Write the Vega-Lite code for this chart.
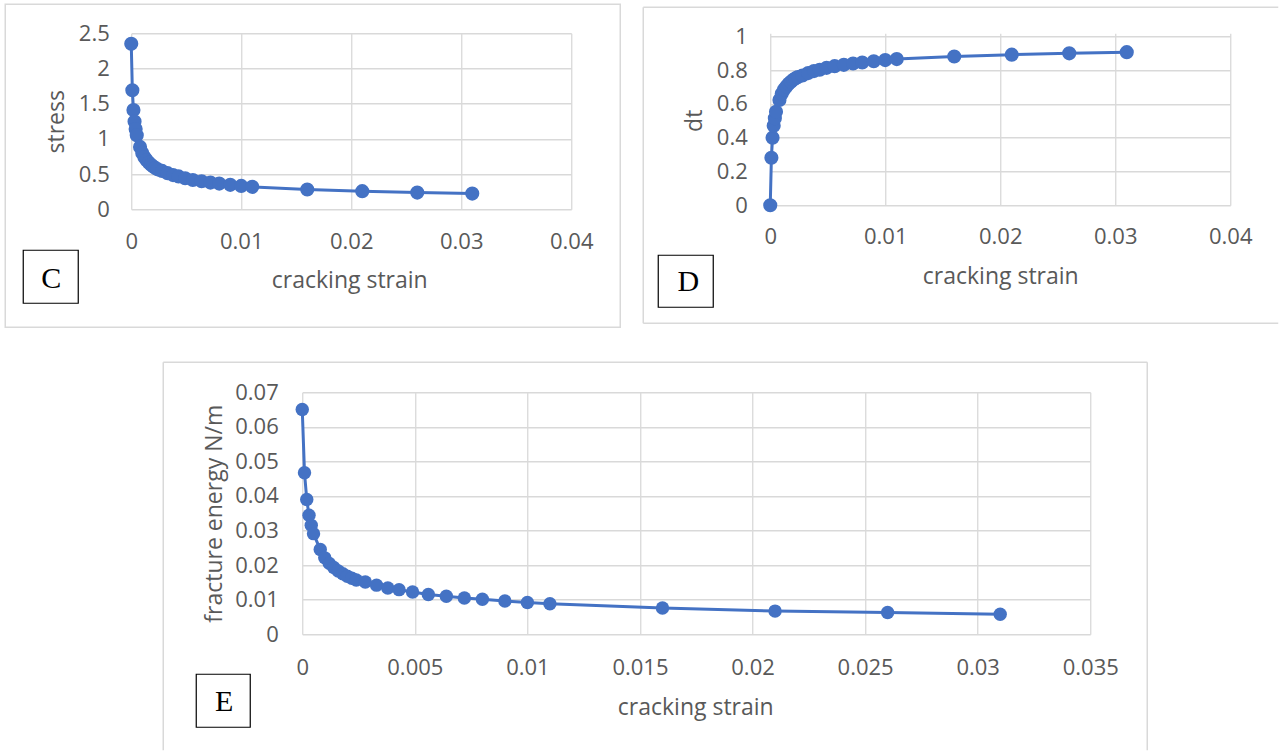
{
  "$schema": "https://vega.github.io/schema/vega-lite/v6.json",
  "padding": {"left": 4.25, "top": 3.25, "right": 0, "bottom": 0},
  "background": "white",
  "bounds": "flush",
  "spacing": 359,
  "config": {
    "view": {"stroke": null},
    "axis": {
      "labelFont": "Open Sans", "labelFontSize": 22, "labelColor": "#595959",
      "titleFont": "Open Sans", "titleFontSize": 23, "titleColor": "#595959", "titleFontWeight": "normal",
      "gridColor": "#d9d9d9", "gridWidth": 1.3, "domain": false, "ticks": false,
      "labelFlush": false, "labelOverlap": false, "format": "~g", "titleBaseline": "middle"
    }
  },
  "datasets": {
    "curve": [
      {"strain": 0, "stress": 2.35, "dt": 0, "energy": 0.065},
      {"strain": 0.0001, "stress": 1.69, "dt": 0.281, "energy": 0.0467},
      {"strain": 0.0002, "stress": 1.41, "dt": 0.4, "energy": 0.039},
      {"strain": 0.0003, "stress": 1.245, "dt": 0.47, "energy": 0.0344},
      {"strain": 0.0004, "stress": 1.14, "dt": 0.515, "energy": 0.0315},
      {"strain": 0.0005, "stress": 1.05, "dt": 0.553, "energy": 0.0291},
      {"strain": 0.0008, "stress": 0.885, "dt": 0.623, "energy": 0.0245},
      {"strain": 0.001, "stress": 0.8, "dt": 0.66, "energy": 0.0221},
      {"strain": 0.0012, "stress": 0.74, "dt": 0.685, "energy": 0.0205},
      {"strain": 0.0014, "stress": 0.697, "dt": 0.703, "energy": 0.0193},
      {"strain": 0.0016, "stress": 0.661, "dt": 0.719, "energy": 0.0183},
      {"strain": 0.0018, "stress": 0.632, "dt": 0.731, "energy": 0.0175},
      {"strain": 0.002, "stress": 0.607, "dt": 0.742, "energy": 0.0168},
      {"strain": 0.0022, "stress": 0.585, "dt": 0.751, "energy": 0.0162},
      {"strain": 0.0024, "stress": 0.567, "dt": 0.759, "energy": 0.0157},
      {"strain": 0.0028, "stress": 0.545, "dt": 0.768, "energy": 0.0151},
      {"strain": 0.0033, "stress": 0.513, "dt": 0.782, "energy": 0.0142},
      {"strain": 0.0038, "stress": 0.485, "dt": 0.794, "energy": 0.0134},
      {"strain": 0.0043, "stress": 0.466, "dt": 0.802, "energy": 0.0129},
      {"strain": 0.0049, "stress": 0.44, "dt": 0.813, "energy": 0.0122},
      {"strain": 0.0056, "stress": 0.416, "dt": 0.823, "energy": 0.0115},
      {"strain": 0.0064, "stress": 0.397, "dt": 0.831, "energy": 0.011},
      {"strain": 0.0072, "stress": 0.379, "dt": 0.839, "energy": 0.0105},
      {"strain": 0.008, "stress": 0.365, "dt": 0.845, "energy": 0.0101},
      {"strain": 0.009, "stress": 0.347, "dt": 0.852, "energy": 0.0096},
      {"strain": 0.01, "stress": 0.332, "dt": 0.859, "energy": 0.0092},
      {"strain": 0.011, "stress": 0.318, "dt": 0.865, "energy": 0.0088},
      {"strain": 0.016, "stress": 0.28, "dt": 0.88, "energy": 0.0076},
      {"strain": 0.021, "stress": 0.257, "dt": 0.891, "energy": 0.0067},
      {"strain": 0.026, "stress": 0.237, "dt": 0.899, "energy": 0.0063},
      {"strain": 0.031, "stress": 0.222, "dt": 0.906, "energy": 0.0058}
    ]
  },
  "vconcat": [
    {
      "hconcat": [
        {
          "width": 440, "height": 176,
          "layer": [
            {
              "data": {"name": "curve"},
              "encoding": {
                "x": {"field": "strain", "type": "quantitative", "scale": {"domain": [0, 0.04], "nice": false},
                      "axis": {"values": [0, 0.01, 0.02, 0.03, 0.04], "labelPadding": 22, "title": "cracking strain", "titleX": 218, "titleY": 71}},
                "y": {"field": "stress", "type": "quantitative", "scale": {"domain": [0, 2.5], "nice": false},
                      "axis": {"values": [0, 0.5, 1, 1.5, 2, 2.5], "labelPadding": 22, "title": "stress", "titleX": -75, "titleY": 88}}
              },
              "layer": [
                {"mark": {"type": "line", "color": "#4472C4", "strokeWidth": 3}},
                {"mark": {"type": "point", "filled": true, "color": "#4472C4", "size": 200, "opacity": 1}}
              ]
            },
            {
              "data": {"values": [{"panel": "C"}]},
              "mark": {"type": "rect", "fill": "white", "fillOpacity": 0, "stroke": "#d9d9d9", "strokeWidth": 1.5},
              "encoding": {
                "x": {"datum": -0.011455, "type": "quantitative", "axis": {"values": [0, 0.01, 0.02, 0.03, 0.04], "labelPadding": 22, "title": "cracking strain", "titleX": 218, "titleY": 71}},
                "x2": {"datum": 0.044455},
                "y": {"datum": 2.9119, "type": "quantitative", "axis": {"values": [0, 0.5, 1, 1.5, 2, 2.5], "labelPadding": 22, "title": "stress", "titleX": -75, "titleY": 88}},
                "y2": {"datum": -1.6761}
              }
            },
            {
              "data": {"values": [{"panel": "C"}]},
              "mark": {"type": "rect", "fill": "white", "stroke": "black", "strokeWidth": 1.2},
              "encoding": {
                "x": {"datum": -0.0098182, "type": "quantitative", "axis": {"values": [0, 0.01, 0.02, 0.03, 0.04], "labelPadding": 22, "title": "cracking strain", "titleX": 218, "titleY": 71}},
                "x2": {"datum": -0.0048182},
                "y": {"datum": -0.58239, "type": "quantitative", "axis": {"values": [0, 0.5, 1, 1.5, 2, 2.5], "labelPadding": 22, "title": "stress", "titleX": -75, "titleY": 88}},
                "y2": {"datum": -1.33523}
              }
            },
            {
              "data": {"values": [{"panel": "C"}]},
              "mark": {"type": "text", "font": "Liberation Serif", "fontSize": 30, "color": "black", "align": "center", "baseline": "middle"},
              "encoding": {
                "x": {"datum": -0.0072727, "type": "quantitative", "axis": {"values": [0, 0.01, 0.02, 0.03, 0.04], "labelPadding": 22, "title": "cracking strain", "titleX": 218, "titleY": 71}},
                "y": {"datum": -0.99432, "type": "quantitative", "axis": {"values": [0, 0.5, 1, 1.5, 2, 2.5], "labelPadding": 22, "title": "stress", "titleX": -75, "titleY": 88}},
                "text": {"field": "panel"}
              }
            }
          ]
        },
        {
          "width": 199, "height": 176,
          "data": {"values": [{"s": 1}]},
          "mark": {"type": "point", "opacity": 0},
          "encoding": {}
        },
        {
          "width": 460, "height": 172,
          "layer": [
            {
              "data": {"name": "curve"},
              "encoding": {
                "x": {"field": "strain", "type": "quantitative", "scale": {"domain": [0, 0.04], "nice": false},
                      "axis": {"values": [0, 0.01, 0.02, 0.03, 0.04], "labelPadding": 21, "title": "cracking strain", "titleX": 230, "titleY": 71}},
                "y": {"field": "dt", "type": "quantitative", "scale": {"domain": [0, 1.0178], "nice": false},
                      "axis": {"values": [0, 0.2, 0.4, 0.6, 0.8, 1], "labelPadding": 23, "title": "dt", "titleX": -76, "titleY": 87}}
              },
              "layer": [
                {"mark": {"type": "line", "color": "#4472C4", "strokeWidth": 3}},
                {"mark": {"type": "point", "filled": true, "color": "#4472C4", "size": 200, "opacity": 1}}
              ]
            },
            {
              "data": {"values": [{"panel": "D"}]},
              "mark": {"type": "rule", "stroke": "#d9d9d9", "strokeWidth": 1.5},
              "encoding": {
                "x": {"datum": -0.011043, "type": "quantitative", "axis": {"values": [0, 0.01, 0.02, 0.03, 0.04], "labelPadding": 21, "title": "cracking strain", "titleX": 230, "titleY": 71}},
                "x2": {"datum": 0.044174},
                "y": {"datum": 1.1716, "type": "quantitative", "axis": {"values": [0, 0.2, 0.4, 0.6, 0.8, 1], "labelPadding": 23, "title": "dt", "titleX": -76, "titleY": 87}}
              }
            },
            {
              "data": {"values": [{"panel": "D"}]},
              "mark": {"type": "rule", "stroke": "#d9d9d9", "strokeWidth": 1.5},
              "encoding": {
                "x": {"datum": -0.011043, "type": "quantitative", "axis": {"values": [0, 0.01, 0.02, 0.03, 0.04], "labelPadding": 21, "title": "cracking strain", "titleX": 230, "titleY": 71}},
                "x2": {"datum": 0.044174},
                "y": {"datum": -0.69822, "type": "quantitative", "axis": {"values": [0, 0.2, 0.4, 0.6, 0.8, 1], "labelPadding": 23, "title": "dt", "titleX": -76, "titleY": 87}}
              }
            },
            {
              "data": {"values": [{"panel": "D"}]},
              "mark": {"type": "rule", "stroke": "#d9d9d9", "strokeWidth": 1.5},
              "encoding": {
                "x": {"datum": -0.011043, "type": "quantitative", "axis": {"values": [0, 0.01, 0.02, 0.03, 0.04], "labelPadding": 21, "title": "cracking strain", "titleX": 230, "titleY": 71}},
                "y": {"datum": 1.1716, "type": "quantitative", "axis": {"values": [0, 0.2, 0.4, 0.6, 0.8, 1], "labelPadding": 23, "title": "dt", "titleX": -76, "titleY": 87}},
                "y2": {"datum": -0.69822}
              }
            },
            {
              "data": {"values": [{"panel": "D"}]},
              "mark": {"type": "rect", "fill": "white", "stroke": "black", "strokeWidth": 1.2},
              "encoding": {
                "x": {"datum": -0.0097391, "type": "quantitative", "axis": {"values": [0, 0.01, 0.02, 0.03, 0.04], "labelPadding": 21, "title": "cracking strain", "titleX": 230, "titleY": 71}},
                "x2": {"datum": -0.0049565},
                "y": {"datum": -0.29586, "type": "quantitative", "axis": {"values": [0, 0.2, 0.4, 0.6, 0.8, 1], "labelPadding": 23, "title": "dt", "titleX": -76, "titleY": 87}},
                "y2": {"datum": -0.60355}
              }
            },
            {
              "data": {"values": [{"panel": "D"}]},
              "mark": {"type": "text", "font": "Liberation Serif", "fontSize": 30, "color": "black", "align": "center", "baseline": "middle"},
              "encoding": {
                "x": {"datum": -0.0071304, "type": "quantitative", "axis": {"values": [0, 0.01, 0.02, 0.03, 0.04], "labelPadding": 21, "title": "cracking strain", "titleX": 230, "titleY": 71}},
                "y": {"datum": -0.45562, "type": "quantitative", "axis": {"values": [0, 0.2, 0.4, 0.6, 0.8, 1], "labelPadding": 23, "title": "dt", "titleX": -76, "titleY": 87}},
                "text": {"field": "panel"}
              }
            }
          ]
        }
      ],
      "spacing": 0,
      "bounds": "flush"
    },
    {
      "hconcat": [
        {
          "width": 171, "height": 10,
          "data": {"values": [{"s": 1}]},
          "mark": {"type": "point", "opacity": 0},
          "encoding": {}
        },
        {
          "width": 788, "height": 242,
          "layer": [
            {
              "data": {"name": "curve"},
              "encoding": {
                "x": {"field": "strain", "type": "quantitative", "scale": {"domain": [0, 0.035], "nice": false},
                      "axis": {"values": [0, 0.005, 0.01, 0.015, 0.02, 0.025, 0.03, 0.035], "labelPadding": 23, "title": "cracking strain", "titleX": 393, "titleY": 73}},
                "y": {"field": "energy", "type": "quantitative", "scale": {"domain": [0, 0.07], "nice": false},
                      "axis": {"values": [0, 0.01, 0.02, 0.03, 0.04, 0.05, 0.06, 0.07], "labelPadding": 24, "title": "fracture energy N/m", "titleX": -88, "titleY": 121}}
              },
              "layer": [
                {"mark": {"type": "line", "color": "#4472C4", "strokeWidth": 3}},
                {"mark": {"type": "point", "filled": true, "color": "#4472C4", "size": 180, "opacity": 1}}
              ]
            },
            {
              "data": {"values": [{"panel": "E"}]},
              "mark": {"type": "rule", "stroke": "#d9d9d9", "strokeWidth": 1.5},
              "encoding": {
                "x": {"datum": -0.0061739, "type": "quantitative", "axis": {"values": [0, 0.005, 0.01, 0.015, 0.02, 0.025, 0.03, 0.035], "labelPadding": 23, "title": "cracking strain", "titleX": 393, "titleY": 73}},
                "x2": {"datum": 0.037532},
                "y": {"datum": 0.078678, "type": "quantitative", "axis": {"values": [0, 0.01, 0.02, 0.03, 0.04, 0.05, 0.06, 0.07], "labelPadding": 24, "title": "fracture energy N/m", "titleX": -88, "titleY": 121}}
              }
            },
            {
              "data": {"values": [{"panel": "E"}]},
              "mark": {"type": "rule", "stroke": "#d9d9d9", "strokeWidth": 1.5},
              "encoding": {
                "x": {"datum": -0.0061739, "type": "quantitative", "axis": {"values": [0, 0.005, 0.01, 0.015, 0.02, 0.025, 0.03, 0.035], "labelPadding": 23, "title": "cracking strain", "titleX": 393, "titleY": 73}},
                "y": {"datum": 0.078678, "type": "quantitative", "axis": {"values": [0, 0.01, 0.02, 0.03, 0.04, 0.05, 0.06, 0.07], "labelPadding": 24, "title": "fracture energy N/m", "titleX": -88, "titleY": 121}},
                "y2": {"datum": -0.033554}
              }
            },
            {
              "data": {"values": [{"panel": "E"}]},
              "mark": {"type": "rule", "stroke": "#d9d9d9", "strokeWidth": 1.5},
              "encoding": {
                "x": {"datum": 0.037532, "type": "quantitative", "axis": {"values": [0, 0.005, 0.01, 0.015, 0.02, 0.025, 0.03, 0.035], "labelPadding": 23, "title": "cracking strain", "titleX": 393, "titleY": 73}},
                "y": {"datum": 0.078678, "type": "quantitative", "axis": {"values": [0, 0.01, 0.02, 0.03, 0.04, 0.05, 0.06, 0.07], "labelPadding": 24, "title": "fracture energy N/m", "titleX": -88, "titleY": 121}},
                "y2": {"datum": -0.033554}
              }
            },
            {
              "data": {"values": [{"panel": "E"}]},
              "mark": {"type": "rect", "fill": "white", "stroke": "black", "strokeWidth": 1.2},
              "encoding": {
                "x": {"datum": -0.0047081, "type": "quantitative", "axis": {"values": [0, 0.005, 0.01, 0.015, 0.02, 0.025, 0.03, 0.035], "labelPadding": 23, "title": "cracking strain", "titleX": 393, "titleY": 73}},
                "x2": {"datum": -0.0023096},
                "y": {"datum": -0.01157, "type": "quantitative", "axis": {"values": [0, 0.01, 0.02, 0.03, 0.04, 0.05, 0.06, 0.07], "labelPadding": 24, "title": "fracture energy N/m", "titleX": -88, "titleY": 121}},
                "y2": {"datum": -0.026901}
              }
            },
            {
              "data": {"values": [{"panel": "E"}]},
              "mark": {"type": "text", "font": "Liberation Serif", "fontSize": 30, "color": "black", "align": "center", "baseline": "middle"},
              "encoding": {
                "x": {"datum": -0.0034645, "type": "quantitative", "axis": {"values": [0, 0.005, 0.01, 0.015, 0.02, 0.025, 0.03, 0.035], "labelPadding": 23, "title": "cracking strain", "titleX": 393, "titleY": 73}},
                "y": {"datum": -0.019669, "type": "quantitative", "axis": {"values": [0, 0.01, 0.02, 0.03, 0.04, 0.05, 0.06, 0.07], "labelPadding": 24, "title": "fracture energy N/m", "titleX": -88, "titleY": 121}},
                "text": {"field": "panel"}
              }
            }
          ]
        }
      ],
      "spacing": 0,
      "bounds": "flush"
    }
  ]
}
